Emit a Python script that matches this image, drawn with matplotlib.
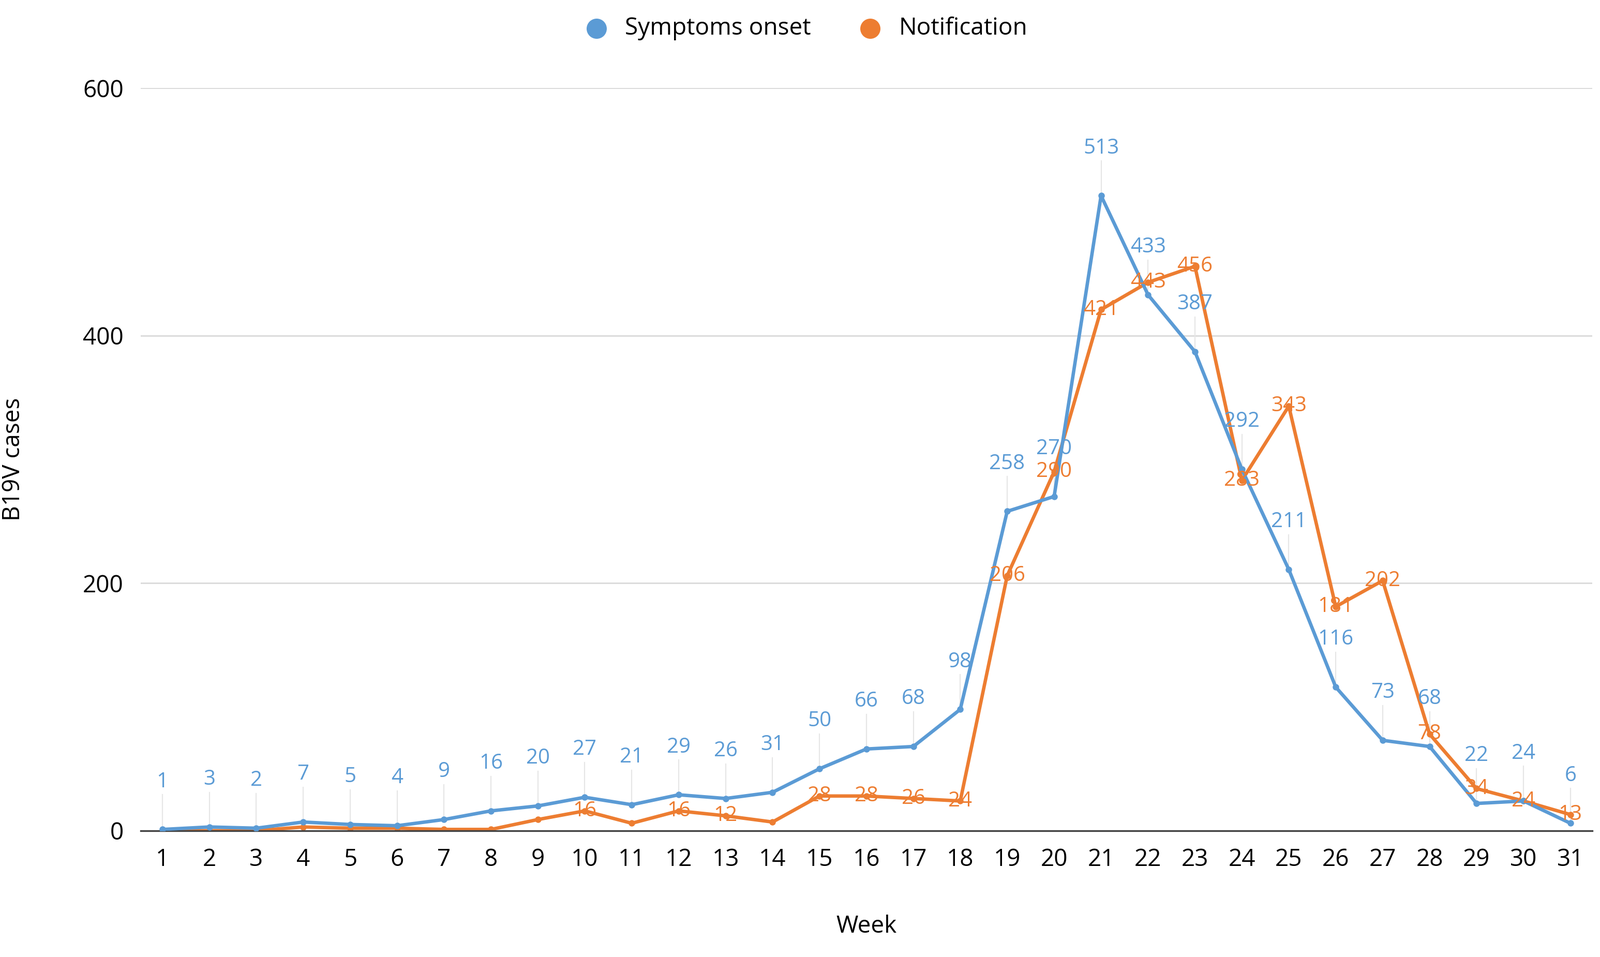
import matplotlib
matplotlib.use('AGG')
import numpy as np
import matplotlib.pyplot as plt

weeks = list(range(1, 32))
onset = [1, 3, 2, 7, 5, 4, 9, 16, 20, 27, 21, 29, 26, 31, 50, 66, 68, 98,
         258, 270, 513, 433, 387, 292, 211, 116, 73, 68, 22, 24, 6]
notif = [0, 0, 0, 3, 2, 2, 1, 1, 9, 16, 6, 16, 12, 7, 28, 28, 26, 24,
         206, 290, 421, 443, 456, 283, 343, 181, 202, 78, 34, 24, 13]
# weeks whose notification value carries a label
notif_labelled = [10, 12, 13] + list(range(15, 32))

blue = '#5b9bd5'
orange = '#ed7d31'
plt.rcParams['font.family'] = 'Open Sans'

fig = plt.figure(figsize=(15.465, 9.25), dpi=200)
ax = fig.add_axes([0.088, 0.132, 0.907, 0.776])

ax.plot(weeks, onset, color=blue, lw=2.4, marker='o', ms=3.5, zorder=3)
ax.plot(weeks, notif, color=orange, lw=2.4, marker='o', ms=3.5, zorder=2)

for w, v in zip(weeks, onset):
    ax.plot([w, w], [v, v + 28], color='#e6e6e6', lw=0.8, zorder=1)
    ax.text(w, v + 30, str(v), color=blue, fontsize=14.5, ha='center', va='bottom', zorder=4)
for w, v in zip(weeks, notif):
    if w in notif_labelled:
        ax.text(w, v, str(v), color=orange, fontsize=14.5, ha='center', va='center', zorder=5)

ax.set_xlim(0.54, 31.46)
ax.set_ylim(0, 600)
ax.set_xticks(weeks)
ax.set_yticks([0, 200, 400, 600])
ax.tick_params(length=0, labelsize=16.5, pad=12)
ax.grid(axis='y', color='#d9d9d9', lw=1)
ax.set_axisbelow(True)
for s in ['top', 'right', 'left']:
    ax.spines[s].set_visible(False)
ax.spines['bottom'].set_color('#404040')
ax.spines['bottom'].set_linewidth(1.2)
ax.set_xlabel('Week', fontsize=16.5, labelpad=30)
ax.set_ylabel('B19V cases', fontsize=16.5, labelpad=40)

h1 = ax.scatter([], [], color=blue, s=170)
h2 = ax.scatter([], [], color=orange, s=170)
fig.legend([h1, h2], ['Symptoms onset', 'Notification'], loc='upper center',
           bbox_to_anchor=(0.5, 1.005), ncol=2, frameon=False, fontsize=16.5,
           handletextpad=0.2, columnspacing=1.5)

fig.savefig('out.png')
